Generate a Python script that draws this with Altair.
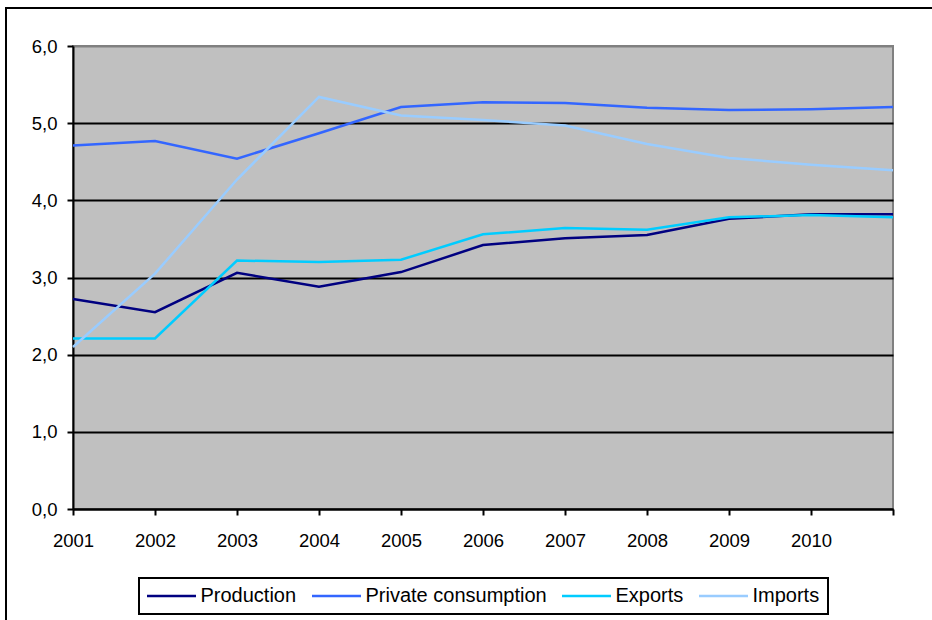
import altair as alt
import pandas as pd

# Growth indicators by year (index values)
years = ["2001", "2002", "2003", "2004", "2005", "2006", "2007", "2008", "2009", "2010", "2011"]
production = [2.72, 2.55, 3.06, 2.88, 3.07, 3.42, 3.51, 3.55, 3.76, 3.82, 3.82]
private_consumption = [4.71, 4.77, 4.54, 4.87, 5.21, 5.27, 5.26, 5.20, 5.17, 5.18, 5.21]
exports = [2.21, 2.21, 3.22, 3.20, 3.23, 3.56, 3.64, 3.62, 3.78, 3.81, 3.78]
imports = [2.10, 3.05, 4.27, 5.34, 5.10, 5.04, 4.97, 4.73, 4.55, 4.46, 4.39]

series_names = ["Production", "Private consumption", "Exports", "Imports"]
series_colors = ["#000080", "#3366FF", "#00CCFF", "#99CCFF"]

rows = []
for name, vals in zip(series_names, [production, private_consumption, exports, imports]):
    for order, (yr, v) in enumerate(zip(years, vals)):
        rows.append({"year": yr, "value": v, "series": name, "idx": order})
df = pd.DataFrame(rows)

FONT = "Liberation Sans"

x_enc = alt.X(
    "year:O",
    sort=years,
    scale=alt.Scale(type="point", padding=0),
    axis=alt.Axis(
        title=None,
        labelAngle=0,
        labelExpr="datum.value == '2011' ? '' : datum.value",
        domainColor="black",
        domainWidth=2,
        tickColor="black",
        tickWidth=2,
        tickSize=6,
        labelPadding=16,
        labelFontSize=18.5,
        labelFont=FONT,
        labelColor="black",
        grid=False,
    ),
)

y_enc = alt.Y(
    "value:Q",
    scale=alt.Scale(domain=[0, 6], nice=False, zero=True),
    axis=alt.Axis(
        title=None,
        values=[0, 1, 2, 3, 4, 5, 6],
        labelExpr="replace(format(datum.value, '.1f'), '.', ',')",
        domainColor="black",
        domainWidth=2,
        tickColor="black",
        tickWidth=2,
        tickSize=6,
        labelPadding=10,
        labelFontSize=18.5,
        labelFont=FONT,
        labelColor="black",
        grid=True,
        gridColor={"condition": {"test": "datum.value == 6", "value": "#808080"}, "value": "black"},
        gridWidth=2,
    ),
)

lines = alt.Chart(df).mark_line(strokeWidth=2.5).encode(
    x=x_enc,
    y=y_enc,
    color=alt.Color(
        "series:N",
        sort=series_names,
        scale=alt.Scale(domain=series_names, range=series_colors),
        legend=alt.Legend(
            title=None,
            orient="none",
            direction="horizontal",
            legendX=66,
            legendY=532,
            # a long horizontal line swatch on a small layout box
            symbolType="M-4.9,0H4.9",
            symbolSize=100,
            symbolOffset=14.5,
            symbolStrokeWidth=2.5,
            labelFontSize=20,
            labelFont=FONT,
            labelColor="black",
            labelOffset=19,
            labelLimit=400,
            columnPadding=10,
            strokeColor="black",
            fillColor="white",
            padding=8,
        ),
    ),
    order="idx:Q",
)

# Outer chart frame (runs off the right and bottom edges)
frame = alt.Chart(pd.DataFrame({"a": [0]})).mark_rect(
    fill=None, stroke="black", strokeWidth=2
).encode(
    x=alt.value(-67),
    x2=alt.value(900),
    y=alt.value(-38),
    y2=alt.value(620),
)

chart = alt.layer(frame, lines).properties(
    width=820,
    height=463,
    autosize=alt.AutoSizeParams(type="none"),
    padding={"left": 73, "top": 46, "right": 39, "bottom": 111},
    background="white",
).configure_view(
    fill="#C0C0C0",
    stroke="#808080",
    strokeWidth=2,
).configure_legend(
    strokeWidth=2,
)

chart.save("out.html", embed_options={"renderer": "svg", "actions": False})
